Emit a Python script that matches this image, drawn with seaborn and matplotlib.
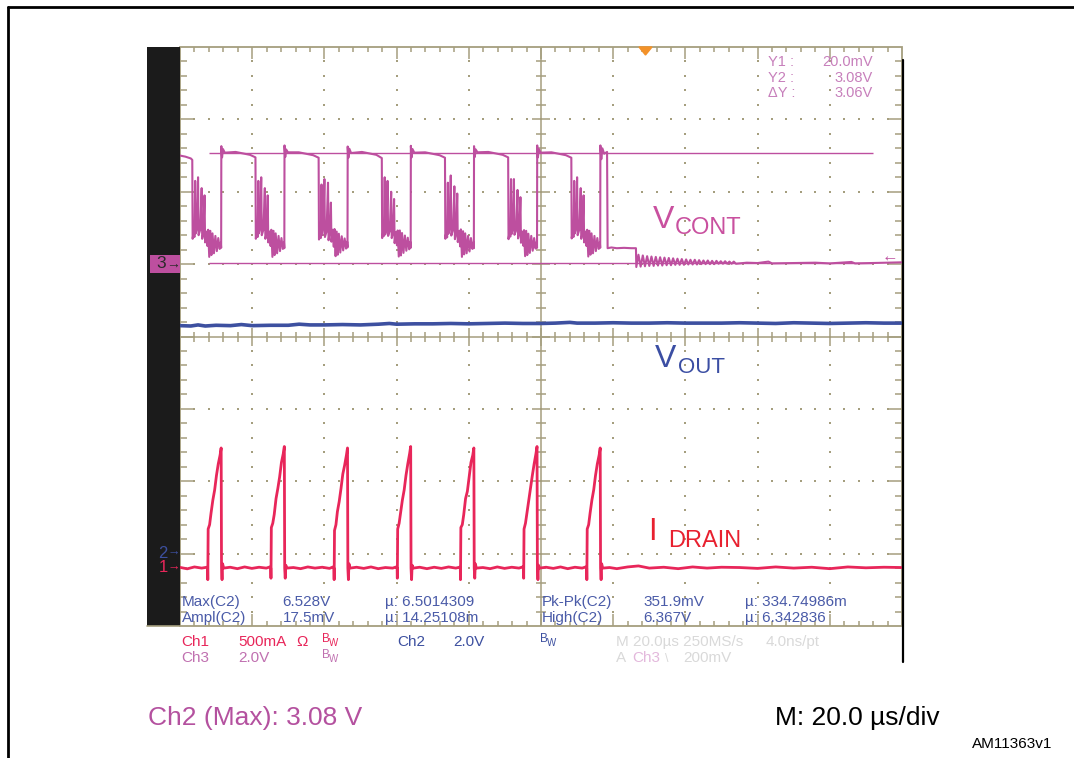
import numpy as np
import pandas as pd
import matplotlib
matplotlib.use("Agg")
import matplotlib.pyplot as plt
from matplotlib.lines import Line2D
from matplotlib.patches import Rectangle, Polygon
import seaborn as sns

W, H = 1074, 758

MAGENTA = "#bd4f9f"
BLUE = "#3d50a0"
RED = "#e8265a"
TAN = "#a59e7e"

# %% data read off the scope capture (time in us)
# Ch3 V_CONT [V], one list per switching cycle
VCONT_T = [
    [0, 1.5, 3.0, 3.4, 3.5, 3.8, 4.0, 4.2, 4.35, 4.7, 5.0, 5.15, 5.6, 6.0, 6.15, 6.5, 6.8, 6.95, 7.3, 7.6,
     7.8, 8.1, 8.4, 8.7, 9.0, 9.4, 9.8, 10.2, 10.6, 11.0, 11.3],
    [11.4, 11.45, 11.65, 11.9, 12.4, 15.4, 19.4, 20.9, 21.0, 21.3, 21.5, 21.7, 21.85, 22.2, 22.5, 22.65, 23.1, 23.5,
     23.65, 24.0, 24.3, 24.45, 24.8, 25.1, 25.3, 25.6, 25.9, 26.2, 26.5, 26.9, 27.3, 27.7, 28.1, 28.5, 28.8],
    [28.9, 28.95, 29.15, 29.4, 29.9, 32.9, 36.9, 38.4, 38.5, 38.8, 39.0, 39.2, 39.35, 39.7, 40.0, 40.15, 40.6, 41.0,
     41.15, 41.5, 41.8, 41.95, 42.3, 42.6, 42.8, 43.1, 43.4, 43.7, 44.0, 44.4, 44.8, 45.2, 45.6, 46.0, 46.3],
    [46.4, 46.45, 46.65, 46.9, 47.4, 50.4, 54.4, 55.9, 56.0, 56.3, 56.5, 56.7, 56.85, 57.2, 57.5, 57.65, 58.1, 58.5,
     58.65, 59.0, 59.3, 59.45, 59.8, 60.1, 60.3, 60.6, 60.9, 61.2, 61.5, 61.9, 62.3, 62.7, 63.1, 63.5, 63.8],
    [63.9, 63.95, 64.15, 64.4, 64.9, 67.9, 71.9, 73.4, 73.5, 73.8, 74.0, 74.2, 74.35, 74.7, 75.0, 75.15, 75.6, 76.0,
     76.15, 76.5, 76.8, 76.95, 77.3, 77.6, 77.8, 78.1, 78.4, 78.7, 79.0, 79.4, 79.8, 80.2, 80.6, 81.0, 81.3],
    [81.4, 81.45, 81.65, 81.9, 82.4, 85.4, 89.4, 90.9, 91.0, 91.3, 91.5, 91.7, 91.85, 92.2, 92.5, 92.65, 93.1, 93.5,
     93.65, 94.0, 94.3, 94.45, 94.8, 95.1, 95.3, 95.6, 95.9, 96.2, 96.5, 96.9, 97.3, 97.7, 98.1, 98.5, 98.8],
    [98.9, 98.95, 99.15, 99.4, 99.9, 102.9, 106.9, 108.4, 108.5, 108.8, 109.0, 109.2, 109.35, 109.7, 110.0, 110.15, 110.6, 111.0,
     111.15, 111.5, 111.8, 111.95, 112.3, 112.6, 112.8, 113.1, 113.4, 113.7, 114.0, 114.4, 114.8, 115.2, 115.6, 116.0, 116.3],
    [116.4, 116.45, 116.7, 117.0, 117.5, 118.3, 118.45, 119.5, 121.0, 123.0, 125.0, 126.3],
    [126.4, 127.0, 127.6, 128.2, 128.8, 129.4, 130.0, 130.6, 131.2, 131.8, 132.4, 133.0, 133.6, 134.2, 134.8, 135.4,
     136.0, 136.6, 137.2, 137.8, 138.4, 139.0, 139.6, 140.2, 140.8, 141.4, 142.0, 142.6, 143.2, 143.8, 144.4, 145.0,
     145.6, 146.2, 146.8, 147.4, 148.0, 148.6, 149.2, 149.8, 150.4, 151.0, 151.6, 152.2, 152.8, 153.4, 154.0,
     157.0, 160.0, 163.0, 164.0, 170.0, 176.0, 180.0, 186.0, 187.0, 192.0, 196.0, 200.0],
]
VCONT_V = [
    [3.0, 2.97, 2.92, 2.88, 0.70, 0.90, 0.75, 2.30, 0.85, 1.00, 2.40, 0.80, 0.95, 2.10, 0.70, 0.85, 1.90, 0.60, 0.90, 0.50,
     0.95, 0.20, 0.92, 0.25, 0.85, 0.30, 0.78, 0.36, 0.72, 0.42, 0.60],
    [0.45, 3.26, 2.95, 3.18, 3.08, 3.10, 3.02, 2.95, 0.70, 0.90, 0.75, 2.30, 0.85, 1.00, 2.40, 0.80, 0.95, 2.10,
     0.70, 0.85, 1.90, 0.60, 0.90, 0.50, 0.95, 0.20, 0.92, 0.25, 0.85, 0.30, 0.78, 0.36, 0.72, 0.42, 0.60],
    [0.44, 3.28, 2.96, 3.17, 3.09, 3.09, 3.01, 2.94, 0.68, 0.95, 0.72, 2.20, 0.80, 1.05, 2.35, 0.75, 0.90, 2.25,
     0.66, 0.90, 1.70, 0.62, 0.95, 0.48, 0.97, 0.22, 0.90, 0.26, 0.84, 0.32, 0.77, 0.38, 0.71, 0.43, 0.62],
    [0.46, 3.25, 2.94, 3.19, 3.07, 3.10, 3.02, 2.93, 0.72, 0.88, 0.78, 2.40, 0.82, 0.98, 2.30, 0.78, 0.92, 2.00,
     0.72, 0.86, 1.80, 0.58, 0.88, 0.52, 0.93, 0.21, 0.93, 0.24, 0.86, 0.31, 0.79, 0.37, 0.73, 0.41, 0.61],
    [0.45, 3.27, 2.95, 3.18, 3.08, 3.09, 3.01, 2.94, 0.70, 0.92, 0.74, 2.25, 0.84, 1.02, 2.45, 0.79, 0.94, 2.15,
     0.69, 0.84, 1.95, 0.61, 0.91, 0.49, 0.96, 0.20, 0.91, 0.27, 0.85, 0.30, 0.78, 0.35, 0.72, 0.42, 0.60],
    [0.44, 3.26, 2.96, 3.17, 3.09, 3.10, 3.02, 2.95, 0.69, 0.90, 0.76, 2.35, 0.83, 0.99, 2.35, 0.81, 0.93, 2.05,
     0.71, 0.87, 1.85, 0.59, 0.90, 0.51, 0.94, 0.22, 0.92, 0.25, 0.84, 0.31, 0.78, 0.37, 0.72, 0.43, 0.61],
    [0.45, 3.28, 2.95, 3.18, 3.08, 3.09, 3.01, 2.94, 0.71, 0.91, 0.75, 2.30, 0.85, 1.00, 2.40, 0.80, 0.95, 2.10,
     0.70, 0.85, 1.90, 0.60, 0.90, 0.50, 0.95, 0.21, 0.92, 0.26, 0.85, 0.30, 0.78, 0.36, 0.72, 0.42, 0.60],
    [0.45, 3.28, 2.90, 3.20, 3.05, 3.10, 0.44, 0.46, 0.44, 0.45, 0.44, 0.44],
    [-0.08, 0.26, -0.07, 0.24, -0.06, 0.22, -0.05, 0.21, -0.05, 0.20, -0.04, 0.19, -0.04, 0.18, -0.03, 0.17,
     -0.03, 0.16, -0.02, 0.15, -0.02, 0.14, -0.02, 0.13, -0.01, 0.12, -0.01, 0.12, -0.01, 0.11, 0.0, 0.10,
     0.0, 0.10, 0.0, 0.09, 0.0, 0.09, 0.01, 0.08, 0.01, 0.08, 0.01, 0.07, 0.01, 0.07, 0.01,
     0.04, 0.03, 0.07, 0.02, 0.03, 0.04, 0.02, 0.06, 0.02, 0.03, 0.04, 0.05],
]
CURSOR_LEVELS = [0.02, 3.08]   # Y1, Y2 in V
CURSOR_SPAN = [8.0, 192.0]

# Ch2 V_OUT [V]
VOUT_T = [0, 3, 5, 7, 10, 14, 17, 20, 25, 30, 33, 36, 40, 45, 50, 55, 58, 60, 65, 70, 75, 80, 85, 90, 95, 100,
          104, 108, 110, 115, 120, 125, 130, 135, 140, 145, 150, 155, 160, 165, 170, 175, 180, 185, 190, 195, 200]
VOUT_V = [6.30, 6.29, 6.32, 6.29, 6.31, 6.30, 6.33, 6.30, 6.31, 6.31, 6.34, 6.32, 6.32, 6.33, 6.32, 6.34, 6.36, 6.34,
          6.35, 6.35, 6.36, 6.35, 6.36, 6.37, 6.36, 6.36, 6.37, 6.39, 6.37, 6.37, 6.38, 6.37, 6.37, 6.38, 6.37, 6.37,
          6.37, 6.38, 6.37, 6.36, 6.38, 6.37, 6.36, 6.37, 6.38, 6.37, 6.37]

# Ch1 I_DRAIN [A], one list per pulse
IDRAIN_T = [
    [0, 2, 4, 6, 7.5],
    [7.65, 7.7, 7.8, 8.2, 8.6, 9.1, 9.6, 10.1, 10.6, 11.1, 11.4, 11.5, 11.65, 11.8, 12.1, 13.9, 15.9, 17.9, 19.9, 21.9, 23.9, 24.9],
    [25.15, 25.2, 25.3, 25.7, 26.1, 26.6, 27.1, 27.6, 28.1, 28.6, 28.9, 29.0, 29.15, 29.3, 29.6, 31.4, 33.4, 35.4, 37.4, 39.4, 41.4, 42.4],
    [42.65, 42.7, 42.8, 43.2, 43.6, 44.1, 44.6, 45.1, 45.6, 46.1, 46.4, 46.5, 46.65, 46.8, 47.1, 48.9, 50.9, 52.9, 54.9, 56.9, 58.9, 59.9],
    [60.15, 60.2, 60.3, 60.7, 61.1, 61.6, 62.1, 62.6, 63.1, 63.6, 63.9, 64.0, 64.15, 64.3, 64.6, 66.4, 68.4, 70.4, 72.4, 74.4, 76.4, 77.4],
    [77.65, 77.7, 77.8, 78.2, 78.6, 79.1, 79.6, 80.1, 80.6, 81.1, 81.4, 81.5, 81.65, 81.8, 82.1, 83.9, 85.9, 87.9, 89.9, 91.9, 93.9, 94.9],
    [95.15, 95.2, 95.3, 95.7, 96.1, 96.6, 97.1, 97.6, 98.1, 98.6, 98.9, 99.0, 99.15, 99.3, 99.6, 101.4, 103.4, 105.4, 107.4, 109.4, 111.4, 112.4],
    [112.65, 112.7, 112.8, 113.2, 113.6, 114.1, 114.6, 115.1, 115.6, 116.1, 116.4, 116.5, 116.65, 116.8, 117.1, 119, 121, 124, 127, 130,
     134, 138, 142, 146, 150, 155, 160, 165, 170, 175, 180, 185, 190, 195, 200],
]
IDRAIN_A = [
    [0.005, -0.005, 0.008, 0.0, 0.006],
    [0.0, -0.08, 0.27, 0.30, 0.38, 0.47, 0.54, 0.64, 0.72, 0.78, 0.83, 0.0, -0.08, 0.03, 0.0, 0.006, -0.004, 0.008, -0.002, 0.006, 0.0, 0.008],
    [0.0, -0.07, 0.28, 0.31, 0.37, 0.48, 0.55, 0.63, 0.73, 0.79, 0.84, 0.0, -0.07, 0.02, 0.0, 0.004, -0.004, 0.008, 0.0, 0.006, -0.002, 0.008],
    [0.0, -0.08, 0.26, 0.30, 0.39, 0.46, 0.55, 0.65, 0.71, 0.78, 0.83, 0.0, -0.08, 0.03, 0.0, 0.006, -0.002, 0.008, -0.004, 0.004, 0.0, 0.008],
    [0.0, -0.07, 0.27, 0.31, 0.38, 0.47, 0.54, 0.64, 0.72, 0.79, 0.84, 0.0, -0.08, 0.02, 0.0, 0.006, -0.004, 0.006, -0.002, 0.008, 0.0, 0.006],
    [0.0, -0.08, 0.28, 0.30, 0.37, 0.48, 0.53, 0.63, 0.73, 0.78, 0.83, 0.0, -0.07, 0.03, 0.0, 0.004, -0.004, 0.008, -0.002, 0.006, 0.0, 0.008],
    [0.0, -0.07, 0.27, 0.31, 0.38, 0.47, 0.55, 0.64, 0.72, 0.79, 0.84, 0.0, -0.08, 0.02, 0.0, 0.006, -0.002, 0.008, -0.004, 0.006, 0.0, 0.008],
    [0.0, -0.08, 0.27, 0.30, 0.38, 0.47, 0.54, 0.64, 0.72, 0.78, 0.83, 0.0, -0.08, 0.03, 0.0, 0.004, -0.004, 0.008, 0.015, 0.0,
     0.006, -0.004, 0.008, 0.0, 0.006, 0.004, -0.002, 0.008, 0.0, 0.006, -0.004, 0.008, 0.002, 0.006, 0.004],
]

# screen settings: (volts or amps per division, ground offset from bottom in divisions)
CH3_SCALE, CH3_GND = 2.0, 5.0
CH2_SCALE, CH2_GND = 2.0, 1.0
CH1_SCALE, CH1_GND = 0.5, 0.8
TIME_SPAN = 200.0   # 10 div x 20 us


def flat(parts):
    return [v for p in parts for v in p]


# %% figure setup
sns.set_style("white")
plt.rcParams["font.family"] = ["Liberation Sans", "DejaVu Sans"]

fig = plt.figure(figsize=(W / 100, H / 100), dpi=100)


def fx(x):
    return x / W


def fy(y):
    return 1 - y / H


def ftext(x, y, s, **kw):
    kw.setdefault("va", "baseline")
    fig.text(fx(x), fy(y), s, **kw)


# page frame
fig.add_artist(Line2D([fx(8), 1], [fy(7), fy(7)], color="black", lw=2))
fig.add_artist(Line2D([fx(8), fx(8)], [fy(7), 0], color="black", lw=2))

# black channel bar on the left of the screen
fig.add_artist(Rectangle((fx(147), fy(626)), 33 / W, 579 / H, transform=fig.transFigure,
                         facecolor="#1b1b1b", edgecolor="none"))
fig.add_artist(Line2D([fx(147), fx(180)], [fy(626), fy(626)], color=TAN, lw=1.2))

# %% scope graticule (x in us, y in divisions)
ax = fig.add_axes([fx(180), fy(626), 722 / W, 579 / H])
ax.set_xlim(0, TIME_SPAN)
ax.set_ylim(-4, 4)
ax.axis("off")

px_x = TIME_SPAN / 722
px_y = 8 / 579
minor_x = np.arange(4, 200, 4)
minor_y = np.round(np.arange(-3.8, 3.9, 0.2), 1)
major_x = minor_x % 20 == 0
major_y = np.isclose(minor_y, np.round(minor_y))

tk = dict(color=TAN, lw=1.1, clip_on=False)
ax.add_patch(Rectangle((0, -4), TIME_SPAN, 8, fill=False, edgecolor=TAN, lw=1.3, clip_on=False))
tlen = np.where(major_x, 12, 5) * px_y
ax.vlines(minor_x, 4 - tlen, 4, **tk)
ax.vlines(minor_x, -4, -4 + tlen, **tk)
slen = np.where(major_y, 15, 7) * px_x
ax.hlines(minor_y, 0, slen, **tk)
ax.hlines(minor_y, TIME_SPAN - slen, TIME_SPAN, **tk)
ax.hlines(0, 0, TIME_SPAN, **tk)
ax.vlines(100, -4, 4, **tk)
clen = np.where(major_x, 9, 5) * px_y
ax.vlines(minor_x, -clen, clen, **tk)
clen2 = np.where(major_y, 9, 5) * px_x
ax.hlines(minor_y, 100 - clen2, 100 + clen2, **tk)

dot_x, dot_y = [], []
for xm in range(20, 200, 20):
    if xm != 100:
        dot_x += [xm] * len(minor_y)
        dot_y += list(minor_y)
for ym in [-3, -2, -1, 1, 2, 3]:
    dot_x += list(minor_x)
    dot_y += [ym] * len(minor_x)
ax.scatter(dot_x, dot_y, s=2.2, color=TAN, marker="s", linewidths=0)

# %% traces, each on its own vertical scale
ax2 = ax.twinx()
df_out = pd.DataFrame({"t": VOUT_T, "v": VOUT_V})
sns.lineplot(data=df_out, x="t", y="v", ax=ax2, color=BLUE, linewidth=2.6,
             estimator=None, sort=False)
ax2.set_ylim(-CH2_GND * CH2_SCALE, (8 - CH2_GND) * CH2_SCALE)

ax1 = ax.twinx()
df_i = pd.DataFrame({"t": flat(IDRAIN_T), "i": flat(IDRAIN_A)})
sns.lineplot(data=df_i, x="t", y="i", ax=ax1, color=RED, linewidth=2.0,
             estimator=None, sort=False)
ax1.set_ylim(-CH1_GND * CH1_SCALE, (8 - CH1_GND) * CH1_SCALE)

ax3 = ax.twinx()
ax3.hlines(CURSOR_LEVELS, CURSOR_SPAN[0], CURSOR_SPAN[1], color=MAGENTA, lw=1.0)
df_c = pd.DataFrame({"t": flat(VCONT_T), "v": flat(VCONT_V)})
sns.lineplot(data=df_c, x="t", y="v", ax=ax3, color=MAGENTA, linewidth=1.5,
             estimator=None, sort=False)
ax3.set_ylim(-CH3_GND * CH3_SCALE, (8 - CH3_GND) * CH3_SCALE)

for a in (ax2, ax1, ax3):
    a.set_xlim(0, TIME_SPAN)
    a.axis("off")

# right edge of the screen
fig.add_artist(Line2D([fx(903), fx(903)], [fy(60), fy(662)], color="black", lw=1.6))

# trigger marker
fig.add_artist(Polygon([(fx(639), fy(47)), (fx(652), fy(47)), (fx(645.5), fy(55))],
                       transform=fig.transFigure, color="#f39229"))

# ground markers
fig.add_artist(Rectangle((fx(150), fy(273)), 30 / W, 18 / H, transform=fig.transFigure,
                         facecolor=MAGENTA, edgecolor="none"))
ftext(156, 264, "3", va="center", fontsize=12.5, color="#2a2a2a")
ftext(166, 264, "\u2192", va="center", fontsize=10, color="#2a2a2a")
ftext(158, 553, "2", va="center", fontsize=12, color=BLUE)
ftext(168, 553, "\u2192", va="center", fontsize=9, color=BLUE)
ftext(159, 568, "1", va="center", fontsize=12, color=RED)
ftext(168, 568, "\u2192", va="center", fontsize=9, color=RED)
ftext(882, 257, "\u2190", va="center", fontsize=12, color=MAGENTA)

# %% texts on the screen
READ = "#c77fbb"
for yb, lab, val in [(66, "Y1 :", "20.0mV"), (82, "Y2 :", "3.08V"), (97, "\u0394Y :", "3.06V")]:
    ftext(768, yb, lab, fontsize=10.5, color=READ)
    ftext(873, yb, val, fontsize=10.5, color=READ, ha="right")

MEAS = "#4a5ba8"
for yb, row in [(606, [(182, "Max(C2)"), (282, "6.528V"), (385, "\u00b5: 6.5014309"),
                       (542, "Pk-Pk(C2)"), (643, "351.9mV"), (745, "\u00b5: 334.74986m")]),
                (622, [(182, "Ampl(C2)"), (283, "17.5mV"), (385, "\u00b5: 14.25108m"),
                       (542, "High(C2)"), (643, "6.367V"), (745, "\u00b5: 6.342836")])]:
    for x, s in row:
        ftext(x, yb, s, fontsize=11, color=MEAS)

ftext(653, 228, "V", fontsize=23, color="#c9509f")
ftext(675, 234, "CONT", fontsize=17, color="#c9509f")
ftext(655, 367, "V", fontsize=23, color="#3b4ea3")
ftext(678, 373, "OUT", fontsize=16, color="#3b4ea3")
ftext(648, 540, "I", fontsize=22, color="#e8202f")
ftext(668, 547, "DRAIN", fontsize=17, color="#e8202f")

# %% channel settings under the screen
GREY = "#d9d9d9"
CH3_TXT = "#c070b0"
ftext(181, 646, "Ch1", fontsize=11, color=RED)
ftext(238, 646, "500mA", fontsize=11, color=RED)
ftext(296, 646, "\u03a9", fontsize=11, color=RED)
ftext(397, 646, "Ch2", fontsize=11, color=BLUE)
ftext(453, 646, "2.0V", fontsize=11, color=BLUE)
ftext(616, 646, "M 20.0\u00b5s 250MS/s", fontsize=11, color=GREY)
ftext(766, 646, "4.0ns/pt", fontsize=11, color=GREY)
ftext(181, 662, "Ch3", fontsize=11, color=CH3_TXT)
ftext(238, 662, "2.0V", fontsize=11, color=CH3_TXT)
ftext(616, 662, "A", fontsize=11, color=GREY)
ftext(632, 662, "Ch3", fontsize=11, color="#e3b8dc")
ftext(665, 662, "\\", fontsize=9, color=GREY)
ftext(683, 662, "200mV", fontsize=11, color=GREY)
for x, yb, col in [(322, 642, RED), (540, 642, BLUE), (322, 658, CH3_TXT)]:
    ftext(x, yb, "B", fontsize=8.5, color=col)
    ftext(x + 7, yb + 4, "W", fontsize=7, color=col)

# %% captions
ftext(148, 725, "Ch2 (Max): 3.08 V", fontsize=19, color="#b4519f")
ftext(775, 725, "M: 20.0 \u00b5s/div", fontsize=19, color="black")
ftext(972, 748, "AM11363v1", fontsize=11, color="black")

fig.savefig("out.png", dpi=100)
